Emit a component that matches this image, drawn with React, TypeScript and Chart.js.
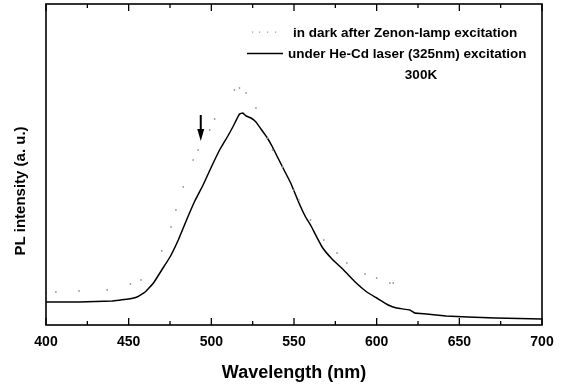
import React, { useEffect, useRef } from "react";
import { Chart, registerables } from "chart.js";

Chart.register(...registerables);

// Under He-Cd laser (solid line): wavelength (nm) and PL intensity (arbitrary units)
const laserWavelength = [400, 410, 420, 430, 440, 445, 450, 455, 460, 465, 470, 475, 480, 485, 490, 495, 500, 505, 510, 513, 517, 519, 521, 524, 527, 530, 533.5, 537, 540, 544, 548, 553, 557, 560, 567, 573, 580, 587, 594, 600, 607, 612, 620, 623, 630, 642, 655, 672, 700];
const laserIntensity = [23, 23, 23, 23.5, 24, 25, 26, 28, 33, 42, 55, 68, 85, 105, 124, 140, 158, 175, 189, 198, 211, 212, 209, 207, 203, 196, 188, 178, 168, 155, 142, 122, 108, 100, 78, 66, 55, 43, 33, 27, 20, 17, 15, 12, 11, 9, 8, 7, 6];

// In dark after Zenon-lamp excitation (sparse grey dots)
const darkWavelength = [400, 406, 420, 437, 451, 457.5, 470, 475.6, 478.6, 483, 489, 492, 499, 502, 514, 517, 521, 527, 534, 537, 543, 550, 553, 560, 568, 576, 582, 593, 600, 608, 610];
const darkIntensity = [32, 33, 34, 35, 41, 45, 74, 98, 115, 138, 165, 175, 195, 206, 235, 237, 232, 217, 187, 175, 158, 135, 125, 105, 85, 72, 62, 51, 47, 42, 42];

const xTicks = [400, 450, 500, 550, 600, 650, 700];
const seriesLabels = ["in dark after Zenon-lamp excitation", "under He-Cd laser (325nm) excitation"];
const tempLabel = "300K";
const xTitle = "Wavelength (nm)";
const yTitle = "PL intensity (a. u.)";
const arrowAt = { x: 493.6, yFrom: 210, yTo: 184 };

const FONT = "Arial, 'Liberation Sans', Helvetica, sans-serif";

const decorPlugin = {
  id: "decor",
  afterDraw(chart: any) {
    const { ctx, chartArea } = chart;
    const xs = chart.scales.x;
    const ys = chart.scales.y;
    ctx.save();
    // frame
    ctx.strokeStyle = "#000";
    ctx.lineWidth = 1.6;
    ctx.strokeRect(chartArea.left, chartArea.top, chartArea.right - chartArea.left, chartArea.bottom - chartArea.top);
    // inward ticks, bottom and top
    ctx.lineWidth = 1.3;
    for (let v = 400; v <= 700; v += 25) {
      const px = xs.getPixelForValue(v);
      const len = v % 50 === 0 ? 7 : 4;
      ctx.beginPath();
      ctx.moveTo(px, chartArea.bottom);
      ctx.lineTo(px, chartArea.bottom - len);
      ctx.moveTo(px, chartArea.top);
      ctx.lineTo(px, chartArea.top + len);
      ctx.stroke();
    }
    // y title
    ctx.fillStyle = "#000";
    ctx.font = `bold 15px ${FONT}`;
    ctx.textAlign = "center";
    ctx.textBaseline = "middle";
    ctx.save();
    ctx.translate(21, 191);
    ctx.rotate(-Math.PI / 2);
    ctx.fillText(yTitle, 0, 0);
    ctx.restore();
    // legend
    ctx.font = `bold 13.5px ${FONT}`;
    ctx.textAlign = "left";
    ctx.fillText(seriesLabels[0], 293, 33);
    ctx.fillText(seriesLabels[1], 288, 54);
    ctx.textAlign = "center";
    ctx.fillText(tempLabel, 421, 75);
    ctx.fillStyle = "#999";
    for (const dx of [252, 259, 267, 275]) {
      ctx.fillRect(dx, 31.5, 1.2, 1.2);
    }
    ctx.strokeStyle = "#000";
    ctx.lineWidth = 1.4;
    ctx.beginPath();
    ctx.moveTo(247, 53.5);
    ctx.lineTo(283, 53.5);
    ctx.stroke();
    // arrow
    const ax = xs.getPixelForValue(arrowAt.x);
    const ay1 = ys.getPixelForValue(arrowAt.yFrom);
    const ay2 = ys.getPixelForValue(arrowAt.yTo);
    ctx.fillStyle = "#000";
    ctx.lineWidth = 2;
    ctx.beginPath();
    ctx.moveTo(ax, ay1);
    ctx.lineTo(ax, ay2 - 10);
    ctx.stroke();
    ctx.beginPath();
    ctx.moveTo(ax - 3.5, ay2 - 12);
    ctx.lineTo(ax + 3.5, ay2 - 12);
    ctx.lineTo(ax, ay2);
    ctx.closePath();
    ctx.fill();
    ctx.restore();
  },
};

export default function App() {
  const canvasRef = useRef<HTMLCanvasElement | null>(null);

  useEffect(() => {
    if (!canvasRef.current) return;
    const chart = new Chart(canvasRef.current, {
      type: "scatter",
      data: {
        datasets: [
          {
            label: seriesLabels[0],
            data: darkWavelength.map((x, i) => ({ x, y: darkIntensity[i] })),
            showLine: false,
            pointRadius: 0.9,
            pointBorderWidth: 0,
            pointBackgroundColor: "#9a9a9a",
            backgroundColor: "#9a9a9a",
          },
          {
            label: seriesLabels[1],
            data: laserWavelength.map((x, i) => ({ x, y: laserIntensity[i] })),
            showLine: true,
            borderColor: "#000",
            borderWidth: 1.5,
            pointRadius: 0,
            tension: 0.1,
          },
        ],
      },
      options: {
        animation: false,
        responsive: true,
        maintainAspectRatio: false,
        layout: { padding: { left: 0, right: 24, top: 4, bottom: 0 } },
        plugins: { legend: { display: false }, tooltip: { enabled: false } },
        scales: {
          x: {
            type: "linear",
            min: 400,
            max: 700,
            afterBuildTicks: (s: any) => {
              s.ticks = xTicks.map((v) => ({ value: v }));
            },
            afterFit: (s: any) => {
              s.height = 61;
            },
            grid: { display: false, drawTicks: false },
            border: { display: false },
            ticks: {
              color: "#000",
              font: { family: FONT, size: 14, weight: "bold" },
              padding: 9,
              maxRotation: 0,
              autoSkip: false,
            },
            title: {
              display: true,
              text: xTitle,
              color: "#000",
              font: { family: FONT, size: 18, weight: "bold" },
              padding: { top: 0, bottom: 2 },
            },
          },
          y: {
            type: "linear",
            min: 0,
            max: 321,
            afterFit: (s: any) => {
              s.width = 46;
            },
            grid: { display: false, drawTicks: false },
            border: { display: false },
            ticks: { display: false },
          },
        },
      },
      plugins: [decorPlugin],
    });
    return () => chart.destroy();
  }, []);

  return (
    <div style={{ position: "fixed", left: 0, top: 0, width: 566, height: 386, background: "#fff" }}>
      <canvas ref={canvasRef} />
    </div>
  );
}
